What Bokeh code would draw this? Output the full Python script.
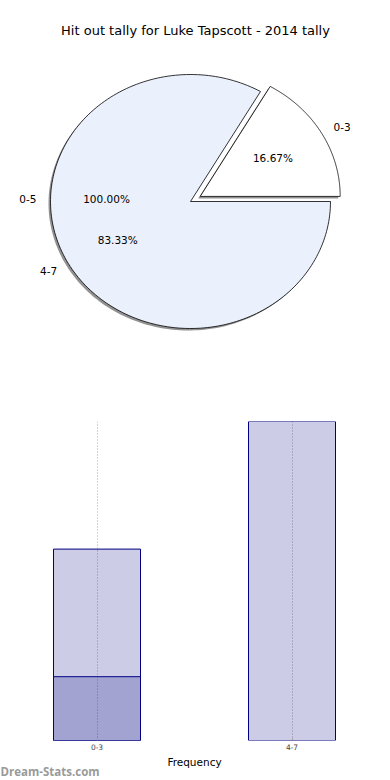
import numpy as np
from bokeh.plotting import figure
from bokeh.layouts import column
from bokeh.models import Range1d, Label, FixedTicker
from bokeh.core.properties import value
from bokeh.embed import file_html
from bokeh.resources import INLINE

# ---- data ----
title_text = "Hit out tally for Luke Tapscott - 2014 tally"
pie_labels = ["0-3", "4-7"]
pie_values = [1, 5]
pie_explode = [0.08, 0.0]
pie_colors = ["#ffffff", "#eaf0fc"]
ghost_labels = ["0-5"]
ghost_pcts = [100.0]

bar_categories = ["0-3", "4-7"]
bar_freq = [3, 5]
bar_overlay = [1, 0]
x_label = "Frequency"
watermark = "Dream-Stats.com"

FONT = "DejaVu Sans"
W = 390

# ---- pie figure ----
RX, RY = 140.0, 127.0   # pixels per unit radius
PH = 378
cx, cy = 190.0, 201.0   # centre in figure pixels (from top-left)
pie = figure(width=W, height=PH, output_backend="svg", toolbar_location=None,
             x_range=Range1d(-cx / RX, (W - cx) / RX),
             y_range=Range1d(-(PH - cy) / RY, cy / RY),
             min_border=0, outline_line_color=None)
pie.axis.visible = False
pie.grid.visible = False

total = float(sum(pie_values))
fracs = [v / total for v in pie_values]
starts = np.cumsum([0.0] + fracs[:-1]) * 2 * np.pi
ends = np.cumsum(fracs) * 2 * np.pi

xs, ys, sxs, sys_ = [], [], [], []
tx, ty, tt, ta = [], [], [], []
px, py, pt = [], [], []
sdx, sdy = -2.0 / RX, -2.0 / RY
for lab, f, a0, a1, ex in zip(pie_labels, fracs, starts, ends, pie_explode):
    mid = 0.5 * (a0 + a1)
    ox, oy = ex * np.cos(mid), ex * np.sin(mid)
    th = np.linspace(a0, a1, 200)
    bx = np.concatenate([[0.0], np.cos(th), [0.0]]) + ox
    by = np.concatenate([[0.0], np.sin(th), [0.0]]) + oy
    xs.append(list(bx)); ys.append(list(by))
    sxs.append(list(bx + sdx)); sys_.append(list(by + sdy))
    tx.append(ox + 1.1 * np.cos(mid)); ty.append(oy + 1.1 * np.sin(mid)); tt.append(lab)
    ta.append("left" if np.cos(mid) > 0 else "right")
    px.append(ox + 0.6 * np.cos(mid)); py.append(oy + 0.6 * np.sin(mid))
    pt.append("%.2f%%" % (f * 100))

gx, gy, gt, ga = [], [], [], []
for lab, pc in zip(ghost_labels, ghost_pcts):
    mid = np.pi * pc / 100.0
    gx += [1.1 * np.cos(mid), 0.6 * np.cos(mid)]
    gy += [1.1 * np.sin(mid), 0.6 * np.sin(mid)]
    gt += [lab, "%.2f%%" % pc]
    ga += ["left" if np.cos(mid) > 0 else "right", "center"]

pie.patches(sxs, sys_, fill_color="#6e6e6e", fill_alpha=0.75, line_color=None)
pie.patches(xs, ys, fill_color=pie_colors, line_color="black", line_width=0.8)
pie.text(tx, ty, text=tt, text_align=ta, text_baseline="middle",
         text_font=value(FONT), text_font_size="10.5px", text_color="black")
pie.text(px, py, text=pt, text_align="center", text_baseline="middle",
         text_font=value(FONT), text_font_size="10.5px", text_color="black")
pie.text(gx, gy, text=gt, text_align=ga, text_baseline="middle", y_offset=-3,
         text_font=value(FONT), text_font_size="10.5px", text_color="black")
pie.add_layout(Label(x=W / 2.0, y=PH - 30, x_units="screen", y_units="screen",
                     text=title_text, text_align="center", text_baseline="middle",
                     text_font=FONT, text_font_size="13px", text_color="black"))

# ---- bar figure ----
BH = 376
x0px, step = 96.5, 195.0
xpos = list(range(len(bar_categories)))
bar = figure(width=W, height=BH, output_backend="svg", toolbar_location=None,
             x_range=Range1d(-x0px / step, (W - x0px) / step),
             y_range=Range1d(0, max(bar_freq)),
             min_border_top=43, min_border_bottom=14, min_border_left=0,
             min_border_right=0, outline_line_color=None)
bar.yaxis.visible = False
bar.ygrid.visible = False
bar.xaxis.ticker = FixedTicker(ticks=xpos)
bar.xaxis.major_label_overrides = {i: c for i, c in zip(xpos, bar_categories)}
bar.xaxis.axis_line_color = None
bar.xaxis.major_tick_line_color = "#999999"
bar.xaxis.major_tick_in = 2
bar.xaxis.major_tick_out = 0
bar.xaxis.minor_tick_line_color = None
bar.xaxis.major_label_text_font = FONT
bar.xaxis.major_label_text_font_size = "7.5px"
bar.xaxis.major_label_standoff = 3
bar.xgrid.grid_line_color = "#aaaaaa"
bar.xgrid.grid_line_dash = "1 2"
bar.xgrid.grid_line_width = 1

bw = 87.0 / step
bar.vbar(x=xpos, top=bar_freq, width=bw, fill_color="navy", fill_alpha=0.2,
         line_color="navy", line_width=1)
ov_x = [x for x, v in zip(xpos, bar_overlay) if v > 0]
ov_v = [v for v in bar_overlay if v > 0]
bar.vbar(x=ov_x, top=ov_v, width=bw, fill_color="navy", fill_alpha=0.2,
         line_color="navy", line_width=1)

# ---- axis title + watermark strip ----
SH = 780 - PH - BH
wm = figure(width=W, height=SH, output_backend="svg", toolbar_location=None,
            min_border=0, outline_line_color=None,
            x_range=Range1d(0, 1), y_range=Range1d(0, 1))
wm.axis.visible = False
wm.grid.visible = False
wm.add_layout(Label(x=W / 2.0 - 1, y=SH - 7.5, x_units="screen", y_units="screen",
                    text=x_label, text_align="center", text_baseline="middle",
                    text_font=FONT, text_font_size="10.5px", text_color="black"))
wm.add_layout(Label(x=0, y=SH - 16.5, x_units="screen", y_units="screen", text=watermark,
                    text_baseline="middle",
                    text_font="Open Sans", text_font_size="11.5px",
                    text_font_style="bold", text_color="#9a9a9a"))

layout = column(pie, bar, wm, spacing=0)
open("out.html", "w").write(file_html(layout, INLINE))
